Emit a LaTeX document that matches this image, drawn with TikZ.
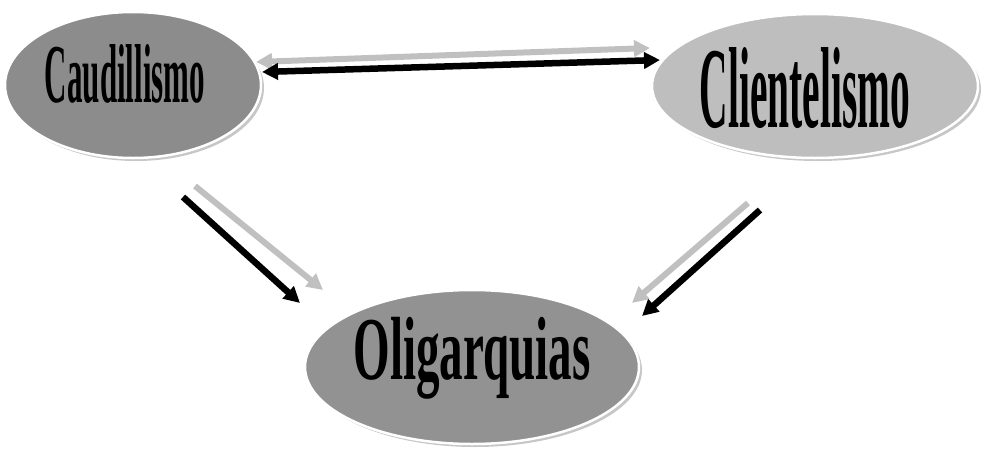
\documentclass[tikz,border=0pt]{standalone}
\usepackage{fontspec}
\setmainfont{Liberation Serif}
\usetikzlibrary{shapes.geometric,arrows.meta,calc,shadows}
\definecolor{darkfill}{RGB}{140,140,140}
\definecolor{lightfill}{RGB}{190,190,190}
\definecolor{oligfill}{RGB}{146,146,146}
\definecolor{arrowgray}{RGB}{192,192,192}
\tikzset{
  bubble/.style={ellipse, draw=white, line width=2.5pt, inner sep=0pt, outer sep=0pt,
    drop shadow={shadow xshift=3pt, shadow yshift=-3pt, fill=black!22, opacity=1}},
  tip/.tip={Triangle[length=16pt,width=16pt]},
  blackarrow/.style={line width=6.5pt, draw=black, -tip},
  grayarrow/.style={line width=6pt, draw=arrowgray, -tip},
  blackboth/.style={line width=6.5pt, draw=black, tip-tip},
  grayboth/.style={line width=6pt, draw=arrowgray, tip-tip},
  word/.style={font=\bfseries, inner sep=0pt}
}
\begin{document}
\begin{tikzpicture}[x=1pt,y=-1pt]
\useasboundingbox (0,0) rectangle (983,453);
\node[bubble, fill=darkfill, minimum width=256pt, minimum height=146pt] (cau) at (133,85) {};
\node[bubble, fill=lightfill, minimum width=326pt, minimum height=144pt] (cli) at (815,86) {};
\node[bubble, fill=oligfill, minimum width=334pt, minimum height=154pt] (oli) at (472,367) {};
\node[word] (caut) at (125,74) {\resizebox{160pt}{58pt}{Caudillismo}};
\node[word] (clit) at (805,88) {\resizebox{210pt}{80pt}{Clientelismo}};
\node[word] (olit) at (472,358) {\resizebox*{237pt}{82pt}{Oligarquias}};
% horizontal pair
\draw[grayboth] ($(cau.center)+(123,-23)$) -- ($(cli.center)+(-165,-38)$);
\draw[blackboth] ($(cau.center)+(129,-13)$) -- ($(cli.center)+(-155,-26)$);
% left diagonal pair
\draw[grayarrow] ($(cau.center)+(62,101)$) -- ($(oli.center)+(-149,-77)$);
\draw[blackarrow] ($(cau.center)+(50,112)$) -- ($(oli.center)+(-172,-64)$);
% right diagonal pair
\draw[grayarrow] ($(cli.center)+(-67,117)$) -- ($(oli.center)+(160,-64)$);
\draw[blackarrow] ($(cli.center)+(-55,124)$) -- ($(oli.center)+(170,-51)$);
\end{tikzpicture}
\end{document}
